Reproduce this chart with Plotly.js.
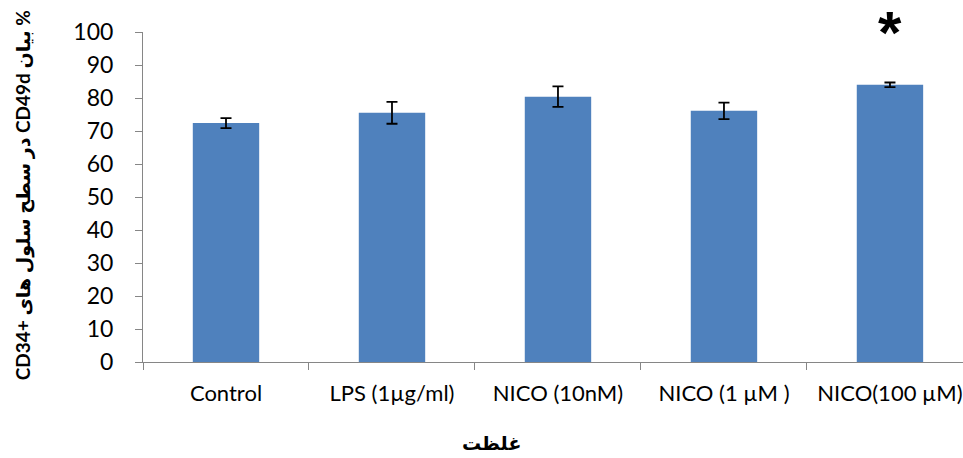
<!DOCTYPE html>
<html>
<head>
<meta charset="utf-8">
<script src="https://cdn.plot.ly/plotly-3.0.1.min.js"></script>
<style>html,body{margin:0;padding:0;overflow:hidden;background:#fff}#chart{width:963px;height:458px}</style>
</head>
<body>
<div id="chart"></div>
<script>
const categories = ["Control", "LPS (1µg/ml)", "NICO (10nM)", "NICO (1 µM )", "NICO(100 µM)"];
const values = [72.4, 75.5, 80.4, 76.1, 84.0];
const errors = [1.5, 3.3, 3.1, 2.5, 0.7];
const yTicks = [0, 10, 20, 30, 40, 50, 60, 70, 80, 90, 100];
const yTitle = "CD34+ در سطح سلول های CD49d بیان %";
const xTitle = "غلظت";
const sigLabel = "*";
const sigCategory = "NICO(100 µM)";

const fontFam = "Lato, 'DejaVu Sans', sans-serif";
const axisGray = "#868686";

const trace = {
  type: "bar",
  x: categories,
  y: values,
  width: 0.4,
  marker: {color: "#4F81BD", line: {width: 0}},
  error_y: {type: "data", array: errors, visible: true, color: "#000000", thickness: 1.8, width: 5.5},
  hoverinfo: "none"
};

const layout = {
  width: 963, height: 458,
  margin: {l: 143, r: 0, t: 32, b: 96, pad: 0},
  paper_bgcolor: "#ffffff", plot_bgcolor: "#ffffff",
  showlegend: false,
  font: {family: fontFam, color: "#000000", size: 22},
  xaxis: {
    type: "category",
    range: [-0.5, 4.44],
    showline: true, linecolor: axisGray, linewidth: 1,
    ticks: "outside", tickson: "boundaries", ticklen: 7, tickcolor: axisGray, tickwidth: 1,
    ticklabelstandoff: 12,
    tickfont: {family: fontFam, size: 22, color: "#000"},
    showgrid: false, zeroline: false, fixedrange: true
  },
  yaxis: {
    range: [0, 100],
    tickmode: "array", tickvals: yTicks, ticktext: yTicks.map(String),
    showline: true, linecolor: axisGray, linewidth: 1,
    ticks: "outside", ticklen: 7, tickcolor: axisGray, tickwidth: 1,
    ticklabelstandoff: 17,
    tickfont: {family: fontFam, size: 23, color: "#000"},
    showgrid: false, zeroline: false, fixedrange: true
  },
  annotations: [
    {text: "<b>" + yTitle + "</b>", xref: "paper", yref: "paper", x: -0.146, y: 0.506,
     xanchor: "center", yanchor: "middle", textangle: -90, showarrow: false,
     font: {family: fontFam, size: 19, color: "#000"}},
    {text: "<b>" + xTitle + "</b>", xref: "paper", yref: "paper", x: 0.425, y: -0.245,
     xanchor: "center", yanchor: "middle", showarrow: false,
     font: {family: fontFam, size: 19, color: "#000"}},
    {text: "<b>" + sigLabel + "</b>", xref: "x", yref: "paper", x: sigCategory, y: 1.0,
     xanchor: "center", yanchor: "middle", showarrow: false,
     font: {family: "'Liberation Sans', sans-serif", size: 60, color: "#000"}}
  ]
};

Plotly.newPlot("chart", [trace], layout, {staticPlot: true, displayModeBar: false});
</script>
</body>
</html>
